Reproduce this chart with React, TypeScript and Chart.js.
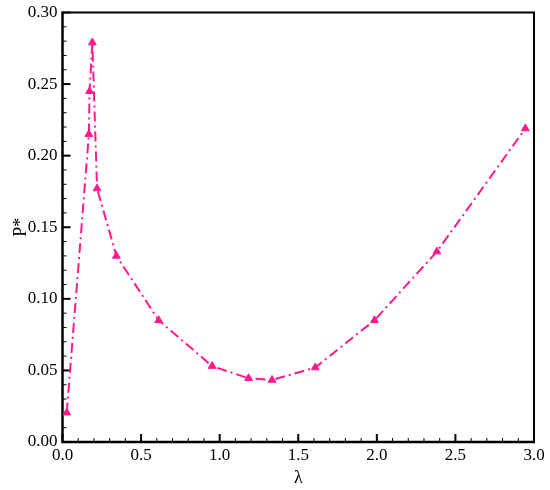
import React, { useEffect, useRef } from "react";
import { Chart, registerables } from "chart.js";

Chart.register(...registerables);

const lambdaValues: number[] = [0.027, 0.168, 0.172, 0.19, 0.22, 0.343, 0.612, 0.952, 1.184, 1.333, 1.608, 1.985, 2.382, 2.945];
const pValues: number[] = [0.0205, 0.215, 0.245, 0.279, 0.177, 0.13, 0.085, 0.053, 0.0445, 0.0433, 0.052, 0.085, 0.133, 0.219];

const xMajorStep = 0.5;
const xMinorStep = 0.1;
const yMajorStep = 0.05;
const yMinorStep = 0.01;
const xRange: [number, number] = [0, 3];
const yRange: [number, number] = [0, 0.3];
const xTitle = "λ";
const yTitle = "P*";

const COLOR = "#ff1a8c";
const FONT = "'Liberation Serif', 'Times New Roman', serif";

const framePlugin = {
  id: "frameTicks",
  beforeDatasetsDraw(chart: any) {
    const { ctx, chartArea } = chart;
    const xs = chart.scales.x;
    const ys = chart.scales.y;
    const { left, right, top, bottom } = chartArea;
    ctx.save();
    ctx.strokeStyle = "#000";
    ctx.lineCap = "butt";
    const nx = Math.round((xRange[1] - xRange[0]) / xMinorStep);
    const majEveryX = Math.round(xMajorStep / xMinorStep);
    for (let i = 0; i <= nx; i++) {
      const v = xRange[0] + i * xMinorStep;
      const px = xs.getPixelForValue(v);
      const major = i % majEveryX === 0;
      ctx.lineWidth = major ? 2 : 1;
      ctx.beginPath();
      ctx.moveTo(px, bottom);
      ctx.lineTo(px, bottom - (major ? 8 : 4));
      ctx.stroke();
    }
    const ny = Math.round((yRange[1] - yRange[0]) / yMinorStep);
    const majEveryY = Math.round(yMajorStep / yMinorStep);
    for (let i = 0; i <= ny; i++) {
      const v = yRange[0] + i * yMinorStep;
      const py = ys.getPixelForValue(v);
      const major = i % majEveryY === 0;
      ctx.lineWidth = major ? 2 : 1;
      ctx.beginPath();
      ctx.moveTo(left, py);
      ctx.lineTo(left + (major ? 8 : 4), py);
      ctx.stroke();
    }
    ctx.lineWidth = 2;
    ctx.beginPath();
    ctx.moveTo(left, top);
    ctx.lineTo(right, top);
    ctx.lineTo(right, bottom);
    ctx.stroke();
    ctx.lineWidth = 2.5;
    ctx.beginPath();
    ctx.moveTo(left, top - 1);
    ctx.lineTo(left, bottom);
    ctx.lineTo(right + 1, bottom);
    ctx.stroke();
    ctx.restore();
  },
};

export default function App() {
  const ref = useRef<HTMLCanvasElement | null>(null);
  useEffect(() => {
    if (!ref.current) return;
    const data = lambdaValues.map((x, i) => ({ x, y: pValues[i] }));
    const chart = new Chart(ref.current, {
      type: "scatter",
      data: {
        datasets: [
          {
            data,
            showLine: true,
            borderColor: COLOR,
            backgroundColor: COLOR,
            borderWidth: 2,
            borderDash: [10, 4, 2, 4],
            pointStyle: "triangle",
            pointRadius: 4.5,
            pointBorderWidth: 1,
            pointBorderColor: COLOR,
            pointBackgroundColor: COLOR,
          },
        ],
      },
      options: {
        animation: false,
        responsive: false,
        maintainAspectRatio: false,
        layout: { padding: { top: 12.5, right: 16, left: 0, bottom: 0 } },
        plugins: { legend: { display: false }, tooltip: { enabled: false } },
        scales: {
          x: {
            type: "linear",
            min: xRange[0],
            max: xRange[1],
            grid: { display: false, drawTicks: false },
            border: { display: false },
            ticks: {
              stepSize: xMajorStep,
              padding: 3,
              color: "#000",
              font: { family: FONT, size: 17 },
              maxRotation: 0,
              callback: (v: any) => Number(v).toFixed(1),
            },
            title: {
              display: true,
              text: xTitle,
              color: "#000",
              font: { family: FONT, size: 18 },
              padding: { top: 0, bottom: 1 },
            },
            afterFit: (s: any) => {
              s.height = 48;
              s.paddingLeft = 0;
              s.paddingRight = 0;
            },
          },
          y: {
            type: "linear",
            min: yRange[0],
            max: yRange[1],
            grid: { display: false, drawTicks: false },
            border: { display: false },
            ticks: {
              stepSize: yMajorStep,
              padding: 5,
              color: "#000",
              font: { family: FONT, size: 17 },
              callback: (v: any) => Number(v).toFixed(2),
            },
            title: {
              display: true,
              text: yTitle,
              color: "#000",
              font: { family: FONT, size: 18 },
              padding: { top: 10, bottom: 0 },
            },
            afterFit: (s: any) => {
              s.width = 62.5;
              s.paddingTop = 0;
              s.paddingBottom = 0;
            },
          },
        },
      },
      plugins: [framePlugin],
    });
    return () => chart.destroy();
  }, []);
  return (
    <div style={{ position: "absolute", left: 0, top: 0, width: 550, height: 490, background: "#fff" }}>
      <canvas ref={ref} width={550} height={490} />
    </div>
  );
}
